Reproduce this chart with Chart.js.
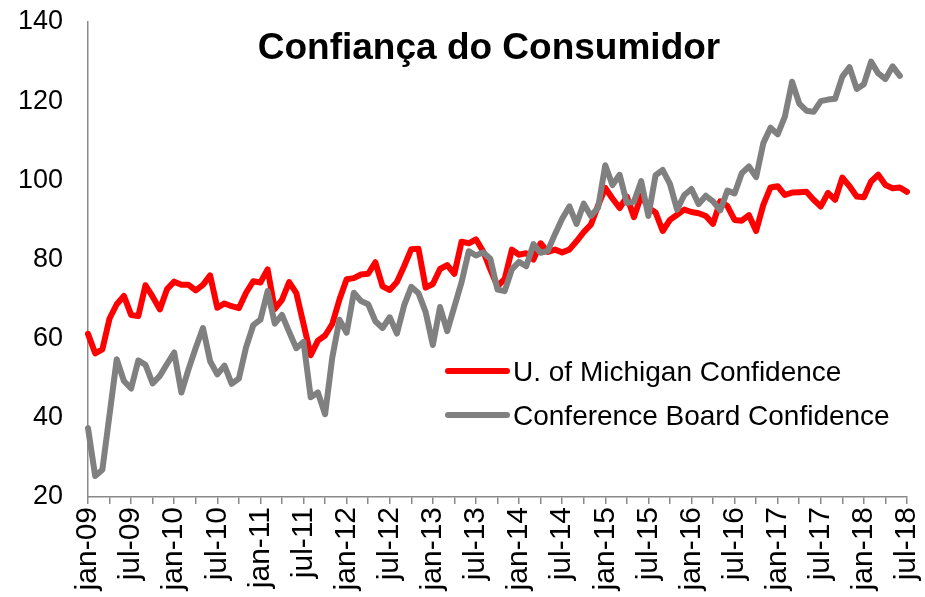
<!DOCTYPE html>
<html lang="pt">
<head>
<meta charset="UTF-8" />
<title>Confiança do Consumidor</title>
<script src="https://cdn.jsdelivr.net/npm/chart.js"></script>
<style>
  html, body { margin: 0; padding: 0; background: #fff; }
</style>
</head>
<body>
<canvas id="chart" width="925" height="597"></canvas>

<script>
  // month categories jan-09 .. jul-18
  const years = [2009, 2010, 2011, 2012, 2013, 2014, 2015, 2016, 2017, 2018];
  const monthNames = ['jan', 'fev', 'mar', 'abr', 'mai', 'jun', 'jul', 'ago', 'set', 'out', 'nov', 'dez'];
  const months = [];
  years.forEach(y => monthNames.forEach((m, k) => {
    if (y < 2018 || k <= 6) months.push(m + '-' + String(y).slice(2));
  }));

  const michigan = [
    61.2, 56.3, 57.3, 65.1, 68.7, 70.8, 66.0, 65.7, 73.5, 70.6, 67.4, 72.5,
    74.4, 73.6, 73.6, 72.2, 73.6, 76.0, 67.8, 68.9, 68.2, 67.7, 71.6, 74.5,
    74.2, 77.5, 67.5, 69.8, 74.3, 71.5, 63.7, 55.8, 59.5, 60.8, 63.7, 69.9,
    75.0, 75.3, 76.2, 76.4, 79.3, 73.2, 72.3, 74.3, 78.3, 82.6, 82.7, 72.9,
    73.8, 77.6, 78.6, 76.4, 84.5, 84.1, 85.1, 82.1, 77.5, 73.2, 75.1, 82.5,
    81.2, 81.6, 80.0, 84.1, 81.9, 82.5, 81.8, 82.5, 84.6, 86.9, 88.8, 93.6,
    98.1, 95.4, 93.0, 95.9, 90.7, 96.1, 93.1, 91.9, 87.2, 90.0, 91.3, 92.6,
    92.0, 91.7, 91.0, 89.0, 94.7, 93.5, 90.0, 89.8, 91.2, 87.2, 93.8, 98.2,
    98.5, 96.3, 96.9, 97.0, 97.1, 95.1, 93.4, 96.8, 95.1, 100.7, 98.5, 95.9,
    95.7, 99.7, 101.4, 98.8, 98.0, 98.2, 97.1
  ];

  const confBoard = [
    37.4, 25.3, 26.9, 40.8, 54.8, 49.3, 47.4, 54.5, 53.4, 48.7, 50.6, 53.6,
    56.5, 46.4, 52.3, 57.7, 62.7, 54.3, 51.0, 53.2, 48.6, 49.9, 57.8, 63.4,
    64.8, 72.0, 63.8, 66.0, 61.7, 57.6, 59.2, 45.2, 46.4, 40.9, 55.2, 64.8,
    61.5, 71.6, 69.5, 68.7, 64.4, 62.7, 65.4, 61.3, 68.4, 73.1, 71.5, 66.7,
    58.4, 68.0, 61.9, 68.1, 74.3, 82.1, 81.0, 81.8, 80.2, 72.4, 72.0, 77.5,
    79.4, 78.3, 83.9, 81.7, 82.2, 86.4, 90.3, 93.4, 89.0, 94.1, 91.0, 93.1,
    103.8, 98.8, 101.4, 94.3, 94.6, 99.8, 91.0, 101.3, 102.6, 99.1, 92.6, 96.3,
    97.8, 94.0, 96.1, 94.7, 92.4, 97.4, 96.7, 101.8, 103.5, 100.8, 109.4, 113.3,
    111.6, 116.1, 124.9, 119.4, 117.6, 117.3, 120.0, 120.4, 120.6, 126.2, 128.6, 123.1,
    124.3, 130.0, 127.0, 125.6, 128.8, 126.4
  ];

  const seriesNames = ['U. of Michigan Confidence', 'Conference Board Confidence'];
  const titleText = 'Confiança do Consumidor';

  const FONT = '"Liberation Sans", Arial, sans-serif';
  const AXIS = '#898989';

  // title and legend sit inside the plot, so draw them by hand
  const overlay = {
    id: 'overlay',
    afterDraw(chart) {
      const ctx = chart.ctx;
      ctx.save();
      ctx.fillStyle = '#000';
      ctx.font = 'bold 37px ' + FONT;
      ctx.textAlign = 'center';
      ctx.textBaseline = 'alphabetic';
      ctx.fillText(titleText, 489, 59);

      ctx.font = '28px ' + FONT;
      ctx.textAlign = 'left';
      chart.data.datasets.forEach((ds, i) => {
        const y = 371 + i * 44;
        ctx.strokeStyle = ds.borderColor;
        ctx.lineWidth = 6;
        ctx.lineCap = 'round';
        ctx.beginPath();
        ctx.moveTo(448, y);
        ctx.lineTo(507, y);
        ctx.stroke();
        ctx.fillText(ds.label, 513, y + 10);
      });
      ctx.restore();
    }
  };

  new Chart(document.getElementById('chart'), {
    type: 'line',
    data: {
      labels: months,
      datasets: [
        {
          label: seriesNames[0],
          data: michigan,
          borderColor: '#ff0000',
          borderWidth: 6,
          order: 1
        },
        {
          label: seriesNames[1],
          data: confBoard,
          borderColor: '#808080',
          borderWidth: 6,
          order: 0
        }
      ]
    },
    options: {
      responsive: false,
      animation: false,
      layout: { padding: { top: 22, right: 18, left: 0, bottom: 0 } },
      elements: {
        line: { tension: 0, borderJoinStyle: 'round', borderCapStyle: 'round' },
        point: { radius: 0, hoverRadius: 0 }
      },
      plugins: {
        legend: { display: false },
        title: { display: false },
        tooltip: { enabled: false }
      },
      scales: {
        x: {
          offset: false,
          afterFit: s => {
            s.height = 100;
            s.paddingLeft = 0;
            s.paddingRight = 0;
          },
          grid: {
            drawOnChartArea: false,
            drawTicks: true,
            tickLength: 7,
            lineWidth: 1.5,
            color: c => (c.index % 3 === 0 ? AXIS : 'rgba(0,0,0,0)')
          },
          border: { display: true, color: AXIS, width: 1.5 },
          ticks: {
            autoSkip: false,
            maxRotation: 90,
            minRotation: 90,
            padding: 3,
            color: '#000',
            font: { family: FONT, size: 30 },
            callback: function (v, i) { return i % 6 === 0 ? this.getLabelForValue(v) : ''; }
          }
        },
        y: {
          min: 20,
          max: 140,
          afterFit: s => {
            s.width = 88;
            s.paddingTop = 0;
            s.paddingBottom = 0;
          },
          grid: { display: false, drawTicks: false },
          border: { display: true, color: AXIS, width: 1.5 },
          ticks: {
            stepSize: 20,
            padding: 25,
            color: '#000',
            font: { family: FONT, size: 27 }
          }
        }
      }
    },
    plugins: [overlay]
  });
</script>
</body>
</html>
